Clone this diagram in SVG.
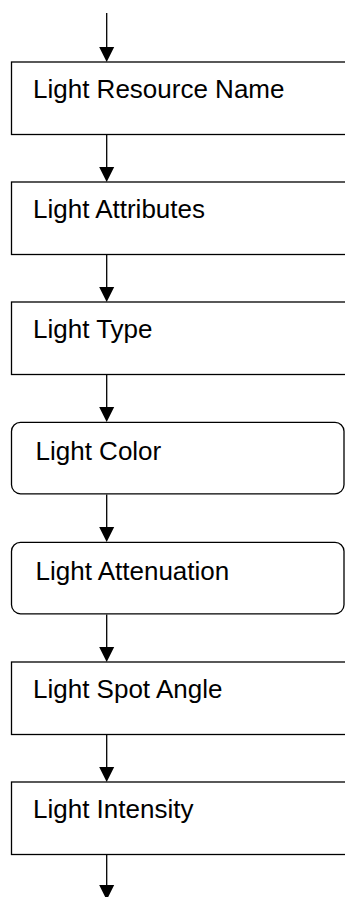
<svg xmlns="http://www.w3.org/2000/svg" width="345" height="897" viewBox="0 0 345 897">
<style>
.box{fill:#fff;stroke:#000;stroke-width:1.3}
.lbl{font-family:"Liberation Sans",Arial,sans-serif;font-size:26px;fill:#000}
.edge{stroke:#000;stroke-width:1.3;fill:none}
.head{fill:#000}
</style>
<rect width="345" height="897" fill="#fff"/>
<g id="connectors">
<line class="edge" x1="106.7" y1="13" x2="106.7" y2="48"/><polygon class="head" points="99.2,47 114.2,47 106.7,62"/>
<line class="edge" x1="106.7" y1="134.5" x2="106.7" y2="168"/><polygon class="head" points="99.2,167 114.2,167 106.7,182"/>
<line class="edge" x1="106.7" y1="254.5" x2="106.7" y2="288"/><polygon class="head" points="99.2,287 114.2,287 106.7,302"/>
<line class="edge" x1="106.7" y1="374.5" x2="106.7" y2="408"/><polygon class="head" points="99.2,407 114.2,407 106.7,422"/>
<line class="edge" x1="106.7" y1="494.5" x2="106.7" y2="528"/><polygon class="head" points="99.2,527 114.2,527 106.7,542"/>
<line class="edge" x1="106.7" y1="614.5" x2="106.7" y2="648"/><polygon class="head" points="99.2,647 114.2,647 106.7,662"/>
<line class="edge" x1="106.7" y1="734.5" x2="106.7" y2="768"/><polygon class="head" points="99.2,767 114.2,767 106.7,782"/>
<line class="edge" x1="106.7" y1="854.5" x2="106.7" y2="886"/><polygon class="head" points="99.2,885 114.2,885 106.7,900"/>
</g>
<g id="n1"><rect class="box" x="11.5" y="62" width="345" height="72.5"/><text class="lbl" x="33" y="98">Light Resource Name</text></g>
<g id="n2"><rect class="box" x="11.5" y="182" width="345" height="72.5"/><text class="lbl" x="33" y="218">Light Attributes</text></g>
<g id="n3"><rect class="box" x="11.5" y="302" width="345" height="72.5"/><text class="lbl" x="33" y="338">Light Type</text></g>
<g id="n4"><rect class="box" x="11.5" y="422.3" width="332.5" height="71.5" rx="9" ry="9"/><text class="lbl" x="35.5" y="460">Light Color</text></g>
<g id="n5"><rect class="box" x="11.5" y="542.3" width="332.5" height="71.5" rx="9" ry="9"/><text class="lbl" x="35.5" y="580">Light Attenuation</text></g>
<g id="n6"><rect class="box" x="11.5" y="662" width="345" height="72.5"/><text class="lbl" x="33" y="698">Light Spot Angle</text></g>
<g id="n7"><rect class="box" x="11.5" y="782" width="345" height="72.5"/><text class="lbl" x="33" y="818">Light Intensity</text></g>
</svg>
